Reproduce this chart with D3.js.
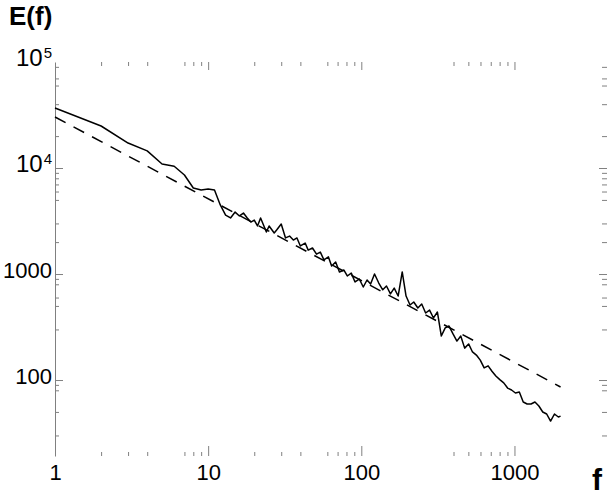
<!DOCTYPE html>
<meta charset="utf-8">
<style>
  body { margin: 0; background: #fff; }
  text { font-family: "Liberation Sans", Arial, Helvetica, sans-serif; }
</style>
<body>
<script src="https://d3js.org/d3.v7.min.js"></script>
<script>

// spectrum E(f)
var freq = [1, 2, 3, 4, 5, 6, 7, 8, 9, 10, 11, 12, 13, 14, 15, 16, 17, 18, 19,
  20, 21, 22, 24, 25, 27, 28, 30, 32, 34, 36, 38, 40, 43, 45, 48, 51, 54, 57, 61,
  64, 68, 72, 77, 81, 86, 91, 97, 103, 109, 115, 122, 130, 138, 146, 155, 164, 174,
  185, 196, 208, 220, 234, 248, 263, 279, 296, 314, 333, 353, 374, 397, 421, 446,
  473, 502, 532, 564, 598, 634, 673, 713, 756, 802, 851, 902, 957, 1015, 1076, 1141,
  1210, 1283, 1361, 1443, 1530, 1623, 1721, 1825, 1935, 2000];

var energy = [36800, 24900, 17200, 14500, 10900, 10400, 8590, 6480, 6200, 6330, 6200,
  4480, 3600, 3380, 3840, 3530, 3760, 3380, 3090,
  3230, 2840, 3380, 2490, 2840, 2440, 2600, 2960, 2190, 2280, 2090, 2190, 1840, 1960,
  1680, 1760, 1540, 1610, 1360, 1450, 1190, 1300, 1045, 1090, 958, 1020, 841, 897,
  754, 878, 805, 1000, 822, 710, 771, 650, 736, 620, 1045, 620, 510, 545, 478, 521,
  429, 457, 385, 438, 260, 310, 323, 272, 233, 260, 200, 219, 184, 172, 154, 130,
  136, 121, 109, 101, 94, 84, 80.5, 75.4, 77.1, 62.0, 59.4, 59.4, 62.0, 56.9, 49.9,
  47.8, 41.0, 47.8, 44.8, 45.7];

// power-law fit (dashed)
var fitFreq = [1, 2000];
var fitEnergy = [30300, 86];

// ticks
var xMajor = [1, 10, 100, 1000];
var xMinor = [[2, 3, 4, 7, 8, 9], [2, 3, 4, 6, 7, 8, 9], [4, 5, 6, 7, 8, 9]];
var yMajor = [100, 1000, 1e4, 1e5];
var yMinor = [[3, 5, 8, 9], [3, 5, 6, 8, 9], [2, 3, 5, 6, 7, 8, 9], [2, 4, 6, 7, 9]];

var width = 607,
    height = 493;

var svg = d3.select("body").append("svg")
    .attr("width", width)
    .attr("height", height);

var x = d3.scaleLog().domain([1, 4020]).range([55, 607]);
var y = d3.scaleLog().domain([19.2, 1e5]).range([456, 62]);

var xMinorVals = [], yMinorVals = [];
xMinor.forEach(function(ms, i) { ms.forEach(function(m) { xMinorVals.push(m * Math.pow(10, i)); }); });
yMinor.forEach(function(ms, i) { ms.forEach(function(m) { yMinorVals.push(m * Math.pow(10, i + 1)); }); });

function styleAxis(g) {
  g.selectAll("line").attr("stroke", "#808080");
  g.selectAll(".domain").remove();
}

// bottom
svg.append("g").attr("transform", "translate(0,456)")
    .call(d3.axisBottom(x).tickValues(xMinorVals).tickSize(-4).tickFormat(""))
    .call(styleAxis);
var xb = svg.append("g").attr("transform", "translate(0,456)")
    .call(d3.axisBottom(x).tickValues(xMajor).tickSize(-10).tickPadding(8)
      .tickFormat(d3.format("d")))
    .call(styleAxis);
xb.selectAll("text").attr("font-size", 22).attr("fill", "#000");

// top
svg.append("g").attr("transform", "translate(0,62)")
    .call(d3.axisTop(x).tickValues(xMinorVals).tickSize(-4).tickFormat(""))
    .call(styleAxis);
svg.append("g").attr("transform", "translate(0,62)")
    .call(d3.axisTop(x).tickValues(xMajor.slice(1)).tickSize(-8).tickFormat(""))
    .call(styleAxis);

// left
svg.append("g").attr("transform", "translate(55,0)")
    .call(d3.axisLeft(y).tickValues(yMinorVals).tickSize(-4).tickFormat(""))
    .call(styleAxis);
var yl = svg.append("g").attr("transform", "translate(55,0)")
    .call(d3.axisLeft(y).tickValues(yMajor).tickSize(-8).tickSizeOuter(0).tickPadding(3));
yl.selectAll("line").attr("stroke", "#808080")
    .filter(function(d) { return d === 1e5; }).remove();
yl.select(".domain").attr("stroke", "#808080");
yl.selectAll("text")
    .attr("font-size", 22).attr("fill", "#000").attr("dy", "0.18em")
    .text(null)
    .each(function(d) {
      var t = d3.select(this), e = Math.round(Math.log10(d));
      if (e < 4) { t.text(d3.format("d")(d)); return; }
      t.append("tspan").attr("font-size", 24).text("10");
      t.append("tspan").attr("font-size", 15).attr("dx", 1).attr("dy", "-0.55em").text(e);
    });

// right
svg.append("g").attr("transform", "translate(607,0)")
    .call(d3.axisLeft(y).tickValues(yMinorVals).tickSize(5).tickFormat(""))
    .call(styleAxis);
svg.append("g").attr("transform", "translate(607,0)")
    .call(d3.axisLeft(y).tickValues(yMajor.slice(0, 3)).tickSize(8).tickFormat(""))
    .call(styleAxis);

// lines
var line = d3.line()
    .x(function(d) { return x(d[0]); })
    .y(function(d) { return y(d[1]); });

svg.append("path")
    .datum(d3.zip(fitFreq, fitEnergy))
    .attr("d", line)
    .attr("fill", "none")
    .attr("stroke", "#000")
    .attr("stroke-width", 1.5)
    .attr("stroke-dasharray", "12,9");

svg.append("path")
    .datum(d3.zip(freq, energy))
    .attr("d", line)
    .attr("fill", "none")
    .attr("stroke", "#000")
    .attr("stroke-width", 1.5)
    .attr("stroke-linejoin", "round");

// axis titles
svg.append("text")
    .attr("x", 9).attr("y", 25)
    .attr("font-size", 26).attr("font-weight", "bold")
    .text("E(f)");

svg.append("text")
    .attr("x", 592).attr("y", 490)
    .attr("font-size", 30).attr("font-weight", "bold")
    .text("f");

</script>
